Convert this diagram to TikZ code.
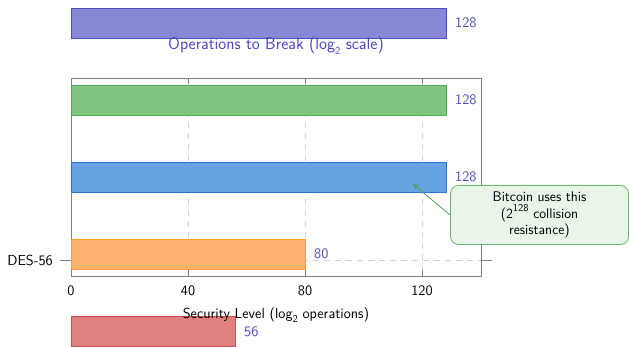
\documentclass[tikz,border=0pt]{standalone}
\usetikzlibrary{arrows.meta}
\definecolor{cpurple}{HTML}{8787D6}
\definecolor{cpurpleD}{HTML}{4F4FC2}
\definecolor{cgreen}{HTML}{80C580}
\definecolor{cgreenD}{HTML}{4FAF4F}
\definecolor{cblue}{HTML}{66A3E0}
\definecolor{cblueD}{HTML}{2A75D0}
\definecolor{corange}{HTML}{FFB26B}
\definecolor{corangeD}{HTML}{FF9933}
\definecolor{cred}{HTML}{E08080}
\definecolor{credD}{HTML}{CC4D4D}
\definecolor{clabel}{HTML}{4B4BC0}
\definecolor{cgrid}{HTML}{CFCFF2}
\definecolor{caxis}{HTML}{7F7F7F}
\definecolor{cnotefill}{HTML}{E9F5E9}
\definecolor{cnoteline}{HTML}{66BB66}
\newcommand{\mysub}[1]{\raisebox{-0.3em}{\fontsize{10.5}{12}\selectfont #1}}
\newcommand{\mysup}[1]{\raisebox{0.45em}{\fontsize{10.5}{12}\selectfont #1}}
\begin{document}
\begin{tikzpicture}[x=1pt,y=-1pt,font=\sffamily\fontsize{14.5}{16}\selectfont,
  bar/.style={draw,line width=0.8pt,inner sep=0pt,minimum height=30pt,anchor=west},
  vallabel/.style={text=clabel,anchor=west,inner sep=0pt},
  ticklabel/.style={anchor=center,inner sep=0pt},
  gridline/.style={cgrid,dashed,dash pattern=on 6pt off 5pt,line width=0.8pt},
  axisline/.style={caxis,line width=0.8pt},
  note/.style={draw=cnoteline,fill=cnotefill,rounded corners=8pt,line width=0.8pt,align=center,
     minimum width=178pt,minimum height=59pt,font=\sffamily\fontsize{14}{16.5}\selectfont}]
\useasboundingbox (0,0) rectangle (629,346);
% grid
\coordinate (g40t) at (188,78); \coordinate (g40b) at (188,276);
\coordinate (g80t) at (305,78); \coordinate (g80b) at (305,276);
\coordinate (g120t) at (422,78); \coordinate (g120b) at (422,276);
\draw[gridline] (g40t) -- (g40b);
\draw[gridline] (g80t) -- (g80b);
\draw[gridline] (g120t) -- (g120b);
\coordinate (hl) at (71,260); \coordinate (hr) at (481,260);
\draw[gridline] (hl) -- (hr);
% axis box
\coordinate (ax1) at (71,78); \coordinate (ax2) at (481,276);
\draw[axisline] (ax1) rectangle (ax2);
% ticks
\foreach \x in {188,305,422}{
  \draw[axisline] (\x,78) -- (\x,84);
  \draw[axisline] (\x,276) -- (\x,270);
}
\coordinate (tl1) at (60,260); \coordinate (tl2) at (71,260);
\coordinate (tr1) at (481,260); \coordinate (tr2) at (492,260);
\draw[axisline] (tl1) -- (tl2);
\draw[axisline] (tr1) -- (tr2);
% bars
\node[bar,fill=cpurple,draw=cpurpleD,minimum width=375pt] (bpurple) at (71,23) {};
\node[bar,fill=cgreen,draw=cgreenD,minimum width=375pt] (bgreen) at (71,100) {};
\node[bar,fill=cblue,draw=cblueD,minimum width=375pt] (bblue) at (71,177) {};
\node[bar,fill=corange,draw=corangeD,minimum width=234pt] (borange) at (71,254.5) {};
\node[bar,fill=cred,draw=credD,minimum width=164pt] (bred) at (71,331) {};
% value labels
\node[vallabel] (lpurple) at (455,23) {128};
\node[vallabel] (lgreen) at (455,100) {128};
\node[vallabel] (lblue) at (455,177) {128};
\node[vallabel] (lorange) at (314,254) {80};
\node[vallabel] (lred) at (244,332) {56};
% titles
\node[text=clabel,font=\sffamily\fontsize{17}{19}\selectfont] (title) at (276,46) {Operations to Break (log\mysub{2} scale)};
\node (xlabel) at (276,315) {Security Level (log\mysub{2} operations)};
\node[anchor=east,inner sep=0pt] (des) at (53,260) {DES-56};
% tick labels
\node[ticklabel] (t0) at (71,291) {0};
\node[ticklabel] (t40) at (188,291) {40};
\node[ticklabel] (t80) at (305,291) {80};
\node[ticklabel] (t120) at (422,291) {120};
% callout
\node[note] (note) at (539.5,215) {Bitcoin uses this\\(2\mysup{128} collision\\resistance)};
\coordinate (tip) at (413,184);
\draw[cnoteline!85!black,line width=0.8pt,-{Stealth[length=6pt,width=5pt]}] (note.west) -- (tip);
\end{tikzpicture}
\end{document}
